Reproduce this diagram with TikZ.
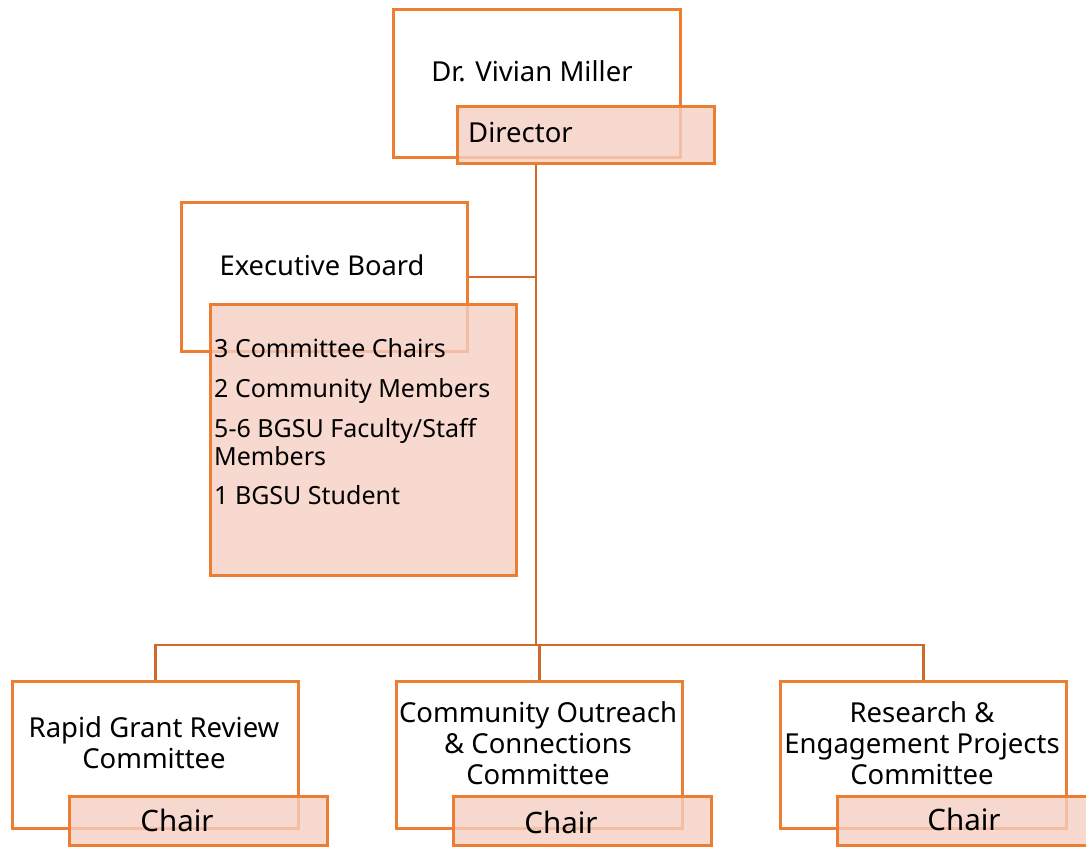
\documentclass[tikz,border=0pt]{standalone}
\usepackage{fontspec}
\setmainfont{Noto Sans}
\usetikzlibrary{positioning}
\definecolor{boxline}{RGB}{237,125,49}
\definecolor{linkline}{RGB}{208,106,44}
\definecolor{boxfill}{RGB}{246,207,195}
\tikzset{
	namebox/.style={draw=boxline, line width=2.5pt, fill=white, anchor=north west, inner sep=0pt},
	titlebox/.style={draw=boxline, line width=2.5pt, fill=boxfill, fill opacity=0.8, text opacity=1, anchor=north west, inner sep=0pt},
	link/.style={draw=linkline, line width=2.5pt},
	txt/.style={font=\fontsize{27.5}{31}\selectfont, align=center, inner sep=0pt}
}
\begin{document}
\begin{tikzpicture}[x=1pt,y=-1pt]
			\useasboundingbox (0,0) rectangle (1086,846);
			% director
			\node[namebox, minimum width=287pt, minimum height=148pt] (dirname) at (392,8) {};
			\node[titlebox, minimum width=257pt, minimum height=57pt] (dirtitle) at (456,105) {};
			\node[txt] (dirtxt) at (532,71) {Dr. Vivian Miller};
			\node[txt, anchor=west] (dirrole) at (468,133) {Director};
			% executive board
			\node[namebox, minimum width=286pt, minimum height=149pt] (exec) at (180,201) {};
			\node[titlebox, minimum width=306pt, minimum height=271pt] (members) at (209,303) {};
			\node[txt, font=\fontsize{27.3}{31}\selectfont] (exectxt) at (322,265) {Executive Board};
			\node[txt, anchor=north west, align=left, font=\fontsize{25}{28}\selectfont] (memtxt) at (214,338)
				{3 Committee Chairs\\[12pt] 2 Community Members\\[12pt] 5-6 BGSU Faculty/Staff\\ Members\\[11pt] 1 BGSU Student};
			% committees
			\node[namebox, minimum width=286pt, minimum height=147pt] (rapid) at (11,680) {};
			\node[namebox, minimum width=286pt, minimum height=147pt] (outreach) at (395,680) {};
			\node[namebox, minimum width=286pt, minimum height=147pt] (research) at (779,680) {};
			\node[titlebox, minimum width=258pt, minimum height=49pt] (rapidchair) at (68,795) {};
			\node[titlebox, minimum width=258pt, minimum height=49pt] (outreachchair) at (452,795) {};
			\node[titlebox, minimum width=258pt, minimum height=49pt] (researchchair) at (836,795) {};
			\node[txt] (rapidtxt) at (154,743) {Rapid Grant Review\\Committee};
			\node[txt] (outreachtxt) at (538,743) {Community Outreach\\\& Connections\\Committee};
			\node[txt] (researchtxt) at (922,743) {Research \&\\Engagement Projects\\Committee};
			\node[txt, font=\fontsize{29.5}{31}\selectfont] (rapidrole) at (177,820) {Chair};
			\node[txt, font=\fontsize{29.5}{31}\selectfont] (outreachrole) at (561,822) {Chair};
			\node[txt, font=\fontsize{29.5}{31}\selectfont] (researchrole) at (964,819) {Chair};
			% connectors
			\coordinate (hub) at (536,645);
			\draw[link] (dirtitle.south -| hub) -- (hub);
			\draw[link] (exec.east) -- (exec.east -| hub);
			\draw[link] (rapid.north) -- (rapid.north |- hub) -- (research.north |- hub) -- (research.north);
			\draw[link] (outreach.north) -- (outreach.north |- hub);
		\end{tikzpicture}
\end{document}
